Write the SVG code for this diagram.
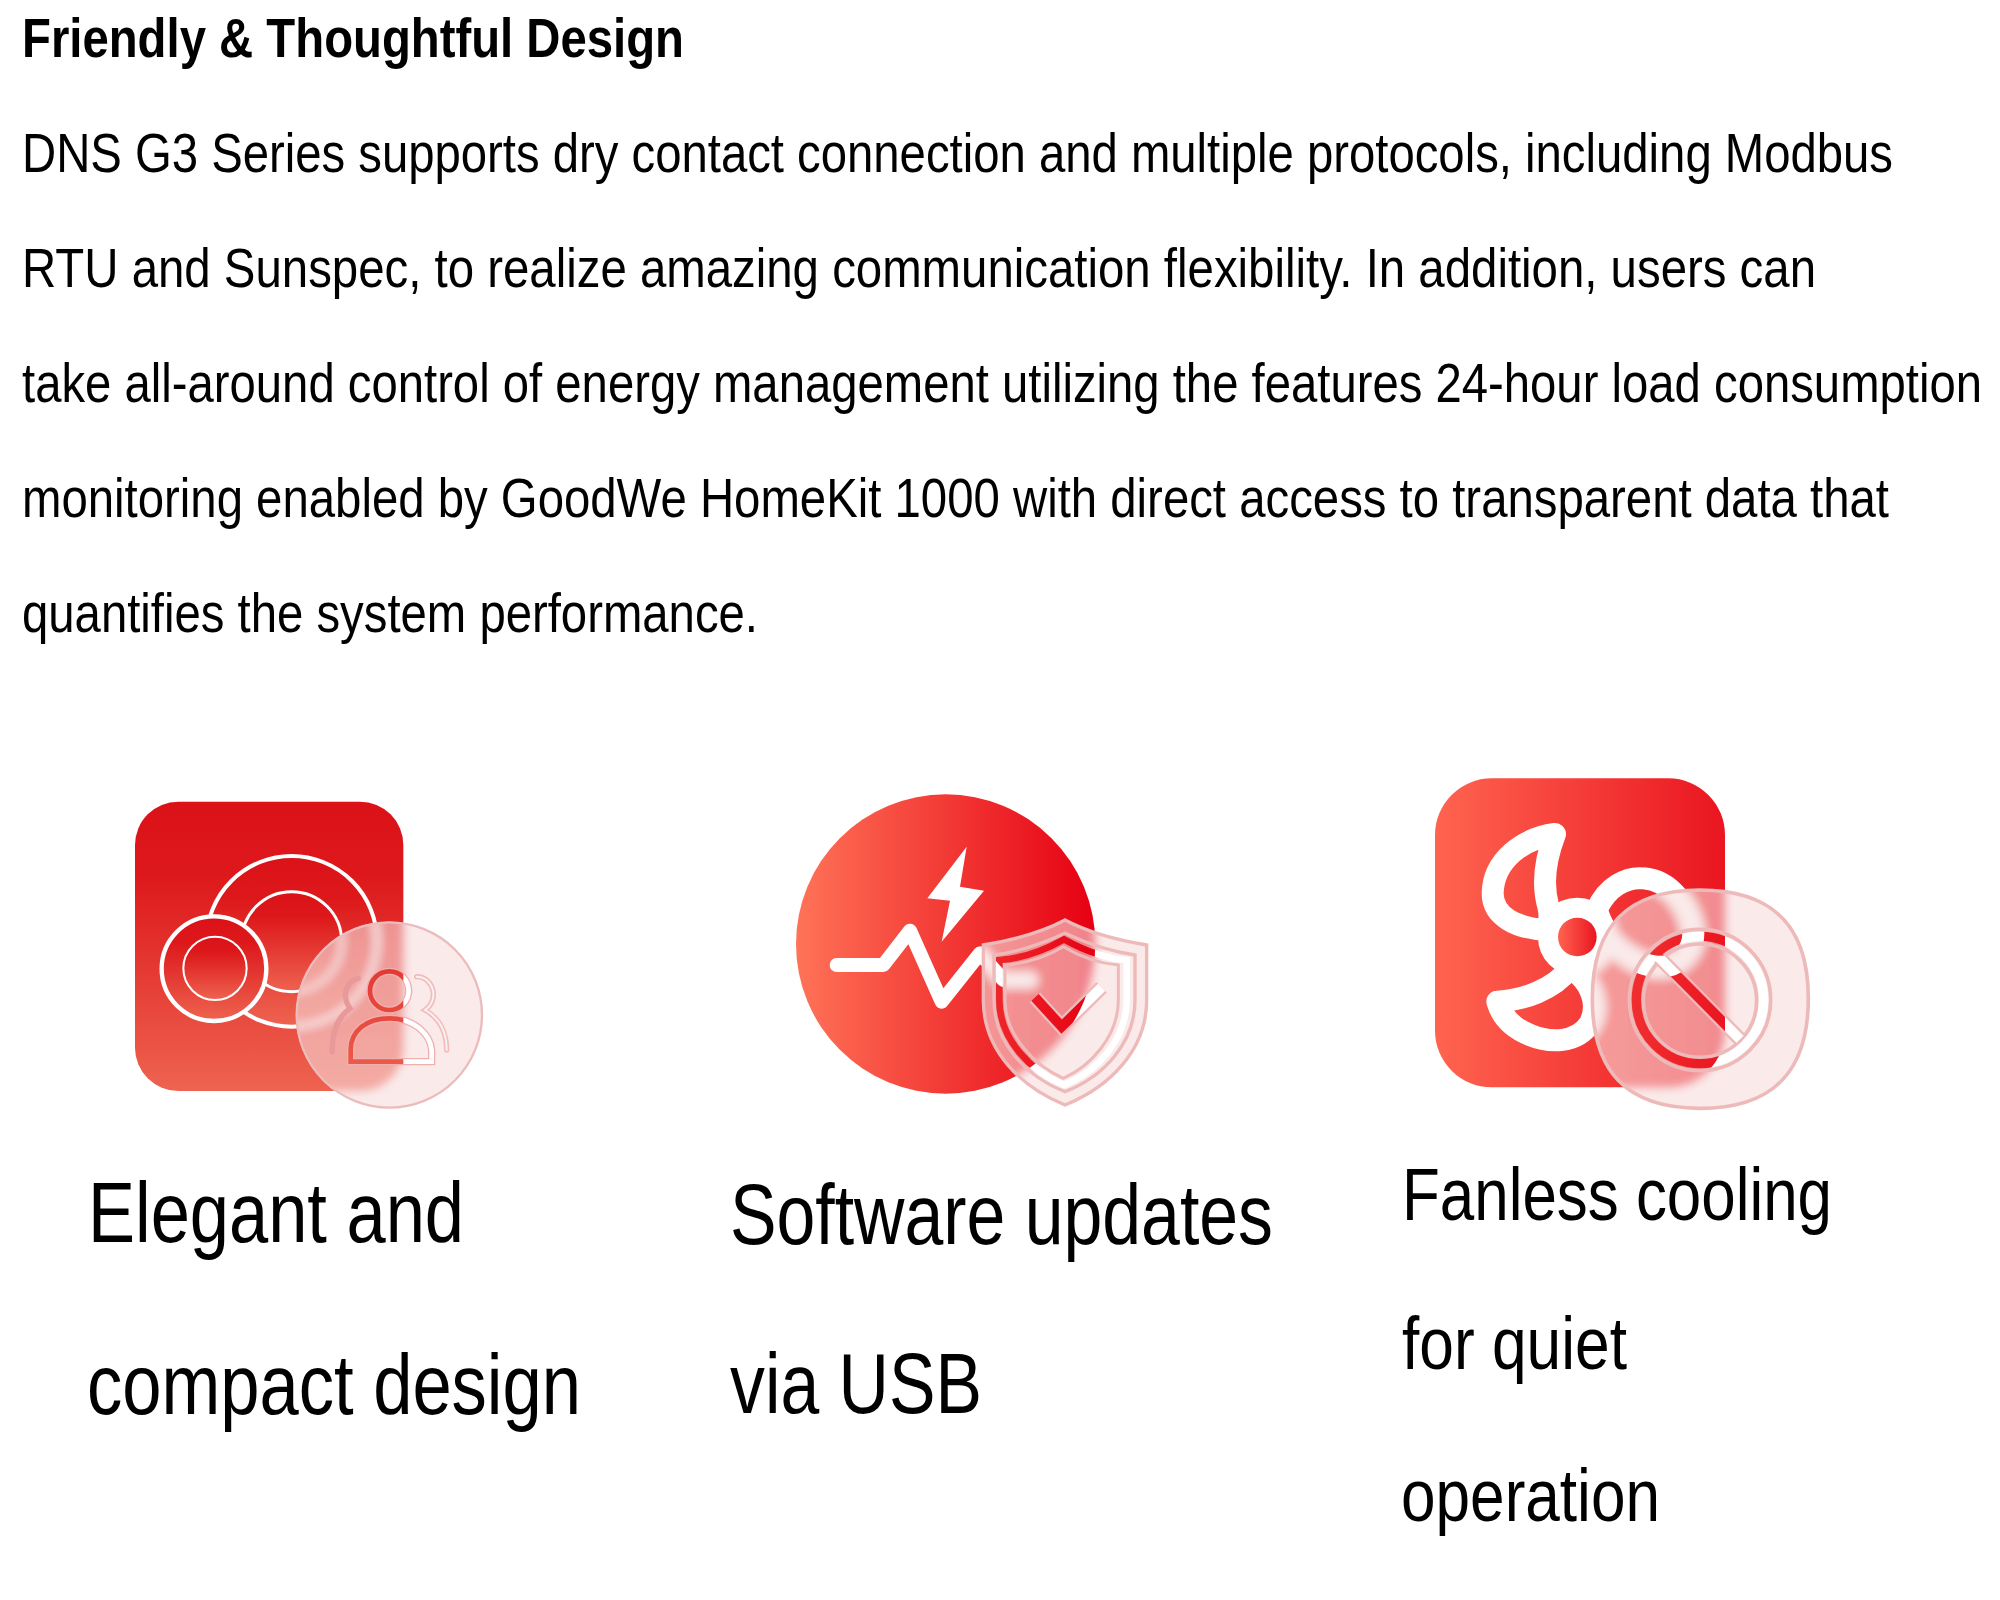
<svg xmlns="http://www.w3.org/2000/svg" xmlns:xlink="http://www.w3.org/1999/xlink" width="2000" height="1600" viewBox="0 0 2000 1600">
<style>
text{font-family:"Liberation Sans",Arial,sans-serif;fill:#000}
.t{font-size:56px;font-weight:700}
.b{font-size:44px}
.c1{font-size:85px}
.c3{font-size:75px}
.frost{fill:#f7dcdc;opacity:.6}
.pale{fill:none;stroke:#eeb9b9}
</style>
<defs>
<linearGradient id="v" x1="0" y1="0" x2="0" y2="1"><stop offset="0" stop-color="#db1218"/><stop offset=".25" stop-color="#dd181b"/><stop offset="1" stop-color="#ee6350"/></linearGradient>
<linearGradient id="hc" x1="0" y1="0" x2="1" y2="0"><stop offset="0" stop-color="#ff7358"/><stop offset="1" stop-color="#e60012"/></linearGradient>
<linearGradient id="hr" x1="0" y1="0" x2="1" y2="0"><stop offset="0" stop-color="#ff6450"/><stop offset="1" stop-color="#ea1520"/></linearGradient>
<filter id="blur" filterUnits="userSpaceOnUse" x="-100" y="-100" width="1500" height="1400"><feGaussianBlur stdDeviation="13"/></filter>

<g id="base1">
<rect x="105" y="125" width="805" height="868" rx="130" fill="url(#v)"/>
<circle cx="575" cy="544" r="256" fill="url(#v)" stroke="#fff" stroke-width="12"/>
<circle cx="575" cy="545" r="150" fill="url(#v)" stroke="#fff" stroke-width="9"/>
<circle cx="342" cy="626" r="157" fill="url(#v)" stroke="#fff" stroke-width="13"/>
<circle cx="345" cy="625" r="95" fill="url(#v)" stroke="#fff" stroke-width="6"/>
</g>
<clipPath id="g1"><circle cx="868" cy="765" r="280"/></clipPath>
<g id="ppl" fill="none">
<circle cx="868" cy="692" r="58"/>
<path d="M752 905V870C752 812 800 775 868 775C940 775 990 820 995 870V905Z"/>
</g>
<mask id="m1" maskUnits="userSpaceOnUse" x="0" y="0" width="1300" height="1100"><use xlink:href="#ppl" stroke="#fff" stroke-width="14"/></mask>

<g id="base2">
<circle cx="527" cy="522" r="449" fill="url(#hc)"/>
<path d="M590 230L472 385L540 392L515 515L642 362L570 350Z" fill="#fff"/>
<path d="M200 585H340L420 482L515 695L630 550L700 630H780" fill="none" stroke="#fff" stroke-width="42" stroke-linecap="round" stroke-linejoin="round"/>
</g>
<path id="sh0" d="M885 450C960 490 1040 510 1130 525V690C1130 840 1020 950 885 1005C750 950 640 840 640 690V525C730 510 810 490 885 450Z"/>
<clipPath id="g2"><use xlink:href="#sh0"/></clipPath>
<mask id="m2" maskUnits="userSpaceOnUse" x="0" y="0" width="1300" height="1100">
<path d="M882 508C940 540 1005 565 1070 570V690C1070 810 980 905 882 945C785 905 688 810 688 690V570C760 565 825 540 882 508Z" fill="none" stroke="#fff" stroke-width="20"/>
<path d="M795 682L875 770L995 652" fill="none" stroke="#fff" stroke-width="30"/>
</mask>

<g id="base3">
<rect x="75" y="55" width="870" height="927" rx="170" fill="url(#hr)"/>
<g fill="none" stroke="#fff" stroke-width="66" stroke-linejoin="round">
<path d="M435 222C340 235 250 300 248 400C248 470 320 505 410 510C420 500 420 460 415 440C395 370 405 300 435 222Z"/>
<path d="M560 450C590 380 650 350 700 355C780 360 840 440 850 520C850 580 800 625 740 620C680 615 620 570 590 530Z"/>
<path d="M262 725C340 720 430 690 480 625C540 660 570 730 540 790C500 850 420 850 360 825C310 805 275 770 262 725Z"/>
<circle cx="502" cy="531" r="85"/>
</g>
<circle cx="502" cy="531" r="58" fill="url(#hr)"/>
</g>
<path id="sq" d="M870 390C1090 390 1195 500 1195 715C1195 935 1090 1045 870 1045C650 1045 547 935 547 715C547 500 650 390 870 390Z"/>
<clipPath id="g3"><use xlink:href="#sq"/></clipPath>
<mask id="m3" maskUnits="userSpaceOnUse" x="0" y="0" width="1300" height="1100">
<circle cx="870" cy="720" r="191" fill="none" stroke="#fff" stroke-width="28"/>
<path d="M745 590L990 838" stroke="#fff" stroke-width="30"/>
</mask>
</defs>

<rect width="2000" height="1600" fill="#fff"/>

<g id="heading">
<text class="t" x="22" y="57" textLength="662" lengthAdjust="spacingAndGlyphs">Friendly &amp; Thoughtful Design</text>
</g>
<g id="body">
<text class="b" transform="translate(22 172) scale(1 1.2727)" textLength="1871" lengthAdjust="spacingAndGlyphs">DNS G3 Series supports dry contact connection and multiple protocols, including Modbus</text>
<text class="b" transform="translate(22 287) scale(1 1.2727)" textLength="1794" lengthAdjust="spacingAndGlyphs">RTU and Sunspec, to realize amazing communication flexibility. In addition, users can</text>
<text class="b" transform="translate(22 402) scale(1 1.2727)" textLength="1960" lengthAdjust="spacingAndGlyphs">take all-around control of energy management utilizing the features 24-hour load consumption</text>
<text class="b" transform="translate(22 517) scale(1 1.2727)" textLength="1867" lengthAdjust="spacingAndGlyphs">monitoring enabled by GoodWe HomeKit 1000 with direct access to transparent data that</text>
<text class="b" transform="translate(22 632) scale(1 1.2727)" textLength="736" lengthAdjust="spacingAndGlyphs">quantifies the system performance.</text>
</g>

<g id="icon-compact" transform="translate(100 760) scale(.33333)">
<use xlink:href="#base1"/>
<g clip-path="url(#g1)">
<rect x="500" y="400" width="800" height="700" fill="#fff"/>
<use xlink:href="#base1" filter="url(#blur)"/>
<rect class="frost" x="500" y="400" width="800" height="700"/>
<use xlink:href="#ppl" stroke="#f0b0b0" stroke-width="22"/>
<path d="M775 655C735 665 725 710 750 745C715 770 695 810 697 875" fill="none" stroke="#e89a9a" stroke-width="16" stroke-linecap="round"/>
<path d="M950 650C1000 650 1020 720 975 750C1020 775 1040 820 1040 870" fill="none" stroke="#f0bcbc" stroke-width="16" stroke-linecap="round"/>
<path d="M950 650C1000 650 1020 720 975 750C1020 775 1040 820 1040 870" fill="none" stroke="#fbf0f0" stroke-width="6" stroke-linecap="round"/>
<g mask="url(#m1)"><rect x="500" y="400" width="800" height="700" fill="#fff"/><rect x="105" y="125" width="805" height="868" fill="url(#v)"/></g>
</g>
<circle cx="868" cy="765" r="278" fill="none" stroke="#ecbcbc" stroke-width="7"/>
</g>

<g id="icon-usb" transform="translate(770 770) scale(.33333)">
<use xlink:href="#base2"/>
<g clip-path="url(#g2)">
<rect x="600" y="400" width="600" height="650" fill="#fff"/>
<use xlink:href="#base2" filter="url(#blur)"/>
<rect class="frost" x="600" y="400" width="600" height="650"/>
</g>
<use xlink:href="#sh0" class="pale" stroke-width="10"/>
<path class="pale" stroke-width="10" d="M885 490C950 520 1020 545 1095 555V690C1095 820 1000 920 885 965C770 920 672 820 672 690V555C750 545 820 520 885 490Z"/>
<path class="pale" stroke-width="9" d="M880 530C930 560 990 580 1045 585V690C1045 800 960 890 880 925C800 890 705 800 705 690V585C770 580 830 560 880 530Z"/>
<path class="pale" stroke-width="44" d="M795 682L875 770L995 652"/>
<g mask="url(#m2)"><rect x="600" y="400" width="600" height="650" fill="#fff"/><use xlink:href="#base2"/></g>
</g>

<g id="icon-fanless" transform="translate(1410 760) scale(.33333)">
<use xlink:href="#base3"/>
<g clip-path="url(#g3)">
<rect x="500" y="350" width="750" height="750" fill="#fff"/>
<use xlink:href="#base3" filter="url(#blur)"/>
<rect class="frost" x="500" y="350" width="750" height="750"/>
</g>
<use xlink:href="#sq" class="pale" stroke-width="11"/>
<circle class="pale" cx="870" cy="720" r="212" stroke-width="11"/>
<circle class="pale" cx="870" cy="722" r="170" stroke-width="11"/>
<path class="pale" stroke-width="44" d="M745 590L990 838"/>
<g mask="url(#m3)"><rect x="500" y="350" width="750" height="750" fill="#fff"/><use xlink:href="#base3"/></g>
</g>

<g id="captions">
<text class="c1" x="88" y="1242" textLength="376" lengthAdjust="spacingAndGlyphs">Elegant and</text>
<text class="c1" x="87" y="1414" textLength="494" lengthAdjust="spacingAndGlyphs">compact design</text>
<text class="c1" x="730" y="1244" textLength="543" lengthAdjust="spacingAndGlyphs">Software updates</text>
<text class="c1" x="730" y="1413" textLength="252" lengthAdjust="spacingAndGlyphs">via USB</text>
<text class="c3" x="1402" y="1220" textLength="430" lengthAdjust="spacingAndGlyphs">Fanless cooling</text>
<text class="c3" x="1402" y="1369" textLength="225" lengthAdjust="spacingAndGlyphs">for quiet</text>
<text class="c3" x="1401" y="1521" textLength="259" lengthAdjust="spacingAndGlyphs">operation</text>
</g>
</svg>
